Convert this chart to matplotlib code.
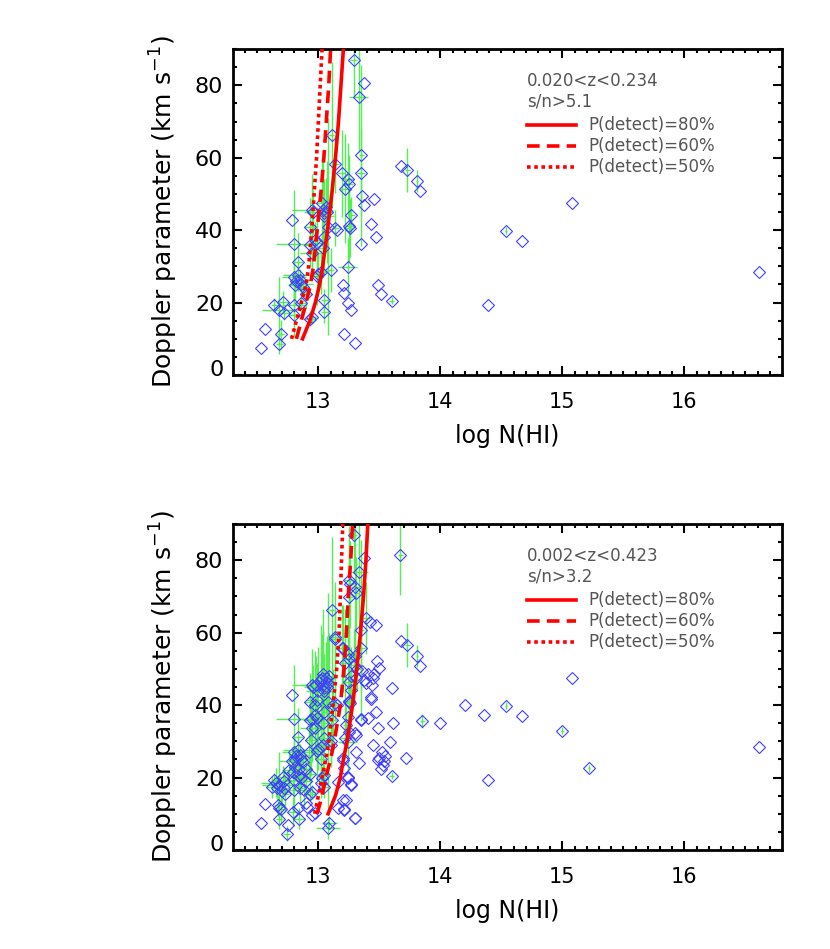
import numpy as np
import matplotlib
matplotlib.use('Agg')
import matplotlib.pyplot as plt
from matplotlib.transforms import ScaledTranslation

# top sample: 0.020<z<0.234, s/n>5.1  (log N, b, errors)
top_logN = [12.53, 12.56, 12.64, 12.68, 12.71, 12.69, 12.68, 12.72, 12.78, 12.80,
            12.83, 12.80, 12.83, 12.85, 12.81, 12.86, 12.82, 12.87, 12.80, 12.80,
            12.86, 12.90, 12.93, 12.95, 12.95, 12.96, 12.93, 12.93, 12.95, 12.97,
            12.99, 12.99, 13.00, 13.03, 13.04, 13.05, 13.06, 13.07, 13.05, 13.05,
            13.04, 13.05, 13.05, 13.02, 13.10, 13.08, 13.14, 13.15, 13.14, 13.11,
            13.19, 13.22, 13.24, 13.25, 13.27, 13.25, 13.26, 13.24, 13.20, 13.21,
            13.24, 13.27, 13.21, 13.30, 13.29, 13.37, 13.33, 13.35, 13.35, 13.36,
            13.37, 13.35, 13.43, 13.46, 13.47, 13.49, 13.51, 13.60, 13.68, 13.73,
            13.81, 13.83, 14.39, 14.54, 14.67, 15.08, 16.61]
top_b = [7.5, 12.7, 19.3, 18.0, 20.2, 11.3, 8.7, 17.2, 42.8, 36.1,
         31.3, 27.0, 27.6, 26.2, 24.8, 25.0, 25.9, 24.3, 19.3, 16.5,
         19.8, 22.5, 15.6, 16.0, 45.6, 45.0, 41.0, 35.9, 33.6, 37.3,
         36.5, 27.4, 28.0, 47.6, 45.5, 44.0, 46.3, 45.0, 44.8, 38.0,
         35.0, 20.7, 17.5, 28.5, 29.0, 41.0, 40.5, 40.0, 58.2, 66.3,
         55.7, 51.5, 54.0, 52.8, 44.2, 41.1, 40.5, 29.9, 24.8, 22.7,
         20.0, 17.9, 11.2, 8.8, 87.1, 80.5, 76.7, 60.7, 55.9, 49.5,
         47.0, 36.1, 41.6, 48.5, 38.2, 24.8, 22.5, 20.5, 57.7, 56.6,
         53.6, 50.8, 19.3, 39.9, 37.1, 47.4, 28.5]
top_dlogN = [0, 0, 0.03, 0.14, 0.05, 0.03, 0.03, 0.05, 0, 0.15,
             0.04, 0.10, 0.12, 0.08, 0.06, 0.10, 0.05, 0.05, 0.10, 0.04,
             0.04, 0.05, 0.05, 0.03, 0.17, 0.08, 0.05, 0.06, 0.10, 0.05,
             0.05, 0.05, 0.04, 0.06, 0.05, 0.08, 0.04, 0.05, 0.03, 0.03,
             0.05, 0.03, 0.03, 0.04, 0.03, 0.02, 0.03, 0, 0.03, 0.02,
             0.03, 0.04, 0.05, 0.03, 0.03, 0.05, 0.03, 0.08, 0, 0,
             0, 0, 0, 0, 0.03, 0, 0.08, 0.02, 0.03, 0,
             0, 0, 0, 0, 0, 0, 0, 0.02, 0, 0.02,
             0.01, 0, 0, 0.01, 0, 0, 0]
top_db = [0, 0, 2, 9, 3, 4, 3, 2, 0, 15,
          8, 5, 4, 3, 4, 3, 2, 2, 3, 6,
          3, 4, 2, 2, 10, 6, 8, 6, 5, 5,
          10, 8, 6, 12, 15, 10, 8, 14, 5, 10,
          8, 3, 3, 6, 6, 30, 5, 0, 8, 20,
          12, 15, 10, 8, 5, 10, 8, 8, 0, 0,
          0, 0, 0, 0, 10, 0, 15, 25, 12, 0,
          0, 0, 0, 0, 0, 0, 0, 1, 0, 6,
          3, 0, 0, 1, 0, 0, 0]

# extra lines that enter the looser bottom sample (0.002<z<0.423, s/n>3.2)
extra_logN = [12.74, 12.75, 12.67, 12.68, 12.62, 12.65, 12.66, 12.70, 12.72, 12.73,
              12.76, 12.78, 12.79, 12.81, 12.83, 12.84, 12.85, 12.79, 12.84, 12.83,
              12.90, 12.91, 12.95, 12.97, 12.88, 12.90, 12.93, 12.92, 12.94, 12.97,
              12.95, 12.97, 12.99, 12.98, 13.00, 13.02, 13.04, 13.06, 13.08, 13.09,
              13.02, 13.04, 13.05, 13.02, 13.03, 13.08, 13.09, 13.10, 13.11, 13.12,
              13.14, 13.16, 13.16, 13.20, 13.21, 13.23, 13.24, 13.27, 13.30, 13.20,
              13.22, 13.23, 13.25, 13.25, 13.20, 13.27, 13.29, 13.30, 13.32, 13.31,
              13.25, 13.25, 13.26, 13.30, 13.31, 13.24, 13.25, 13.30, 13.31, 13.31,
              13.35, 13.33, 13.39, 13.42, 13.47, 13.39, 13.41, 13.44, 13.45, 13.48,
              13.50, 13.43, 13.45, 13.49, 13.41, 13.50, 13.52, 13.53, 13.55, 13.54,
              13.60, 13.61, 13.59, 13.72, 13.67, 13.85, 14.00, 14.20, 14.36, 15.00,
              15.22]
extra_b = [4.5, 6.9, 12.4, 11.5, 17.5, 18.6, 17.0, 16.2, 19.0, 15.5,
           22.0, 24.5, 21.5, 23.0, 20.5, 22.5, 17.0, 10.6, 8.7, 11.5,
           12.9, 12.0, 9.7, 10.1, 16.5, 19.0, 21.0, 27.2, 30.5, 33.6,
           36.3, 40.0, 41.5, 45.5, 44.0, 47.0, 48.5, 47.5, 46.0, 48.0,
           25.0, 29.0, 31.0, 18.5, 20.0, 6.0, 7.4, 30.0, 36.0, 40.0,
           58.9, 18.9, 11.5, 13.8, 11.0, 13.8, 20.2, 18.3, 8.9, 25.3,
           31.0, 34.5, 41.0, 46.5, 55.7, 48.0, 51.0, 53.5, 50.0, 47.5,
           69.9, 74.5, 73.4, 72.5, 71.0, 36.6, 32.5, 32.2, 27.1, 31.7,
           35.9, 24.0, 64.0, 63.0, 62.0, 46.0, 48.5, 45.5, 47.5, 52.2,
           50.2, 42.3, 29.0, 33.6, 36.5, 25.5, 27.0, 23.5, 26.0, 24.5,
           44.6, 35.0, 29.9, 25.5, 81.4, 35.6, 35.2, 40.0, 37.3, 32.9,
           22.6]
extra_dlogN = [0.03, 0, 0.03, 0, 0.05, 0.12, 0.04, 0.06, 0.08, 0.03,
               0.06, 0.10, 0.08, 0.05, 0.06, 0.04, 0.04, 0.04, 0.05, 0,
               0, 0, 0, 0, 0.05, 0.06, 0.04, 0.08, 0.05, 0.06,
               0.10, 0.05, 0.08, 0.12, 0.10, 0.06, 0.05, 0.08, 0.06, 0.04,
               0.04, 0.05, 0.06, 0.04, 0.03, 0.10, 0.06, 0.03, 0.04, 0.03,
               0.03, 0, 0, 0, 0, 0, 0, 0, 0, 0,
               0.04, 0.03, 0.03, 0.04, 0.05, 0.03, 0.03, 0.04, 0.03, 0,
               0.03, 0.04, 0.03, 0.03, 0.02, 0, 0, 0, 0, 0,
               0, 0, 0.03, 0, 0, 0, 0, 0, 0, 0,
               0, 0, 0, 0, 0, 0, 0, 0, 0, 0,
               0, 0, 0, 0, 0.02, 0.02, 0, 0, 0, 0.01,
               0.01]
extra_db = [2, 0, 3, 0, 3, 4, 3, 3, 4, 5,
            5, 4, 6, 4, 3, 5, 4, 4, 3, 0,
            0, 0, 0, 0, 5, 4, 4, 8, 10, 8,
            12, 15, 10, 8, 12, 15, 18, 10, 8, 12,
            6, 8, 5, 4, 3, 3, 2, 6, 8, 10,
            15, 0, 0, 0, 0, 0, 0, 0, 0, 0,
            6, 5, 8, 10, 12, 8, 10, 8, 6, 0,
            15, 15, 12, 18, 10, 0, 0, 0, 0, 0,
            0, 0, 10, 0, 0, 0, 0, 0, 0, 0,
            0, 0, 0, 0, 0, 0, 0, 0, 0, 0,
            0, 0, 0, 0, 11, 2, 0, 0, 0, 1,
            1]

# detection probability curves: log N reached at each b
curve_b = [10, 15, 20, 25, 30, 40, 50, 60, 70, 80, 90]
top_p80 = [12.87, 12.93, 12.975, 13.01, 13.035, 13.075, 13.11, 13.14, 13.165, 13.185, 13.205]
top_p60 = [12.82, 12.86, 12.90, 12.935, 12.96, 12.99, 13.02, 13.045, 13.065, 13.085, 13.10]
top_p50 = [12.78, 12.82, 12.86, 12.90, 12.92, 12.945, 12.965, 12.985, 13.00, 13.015, 13.03]
bot_p80 = [13.08, 13.14, 13.18, 13.205, 13.235, 13.28, 13.315, 13.345, 13.37, 13.39, 13.405]
bot_p60 = [12.99, 13.03, 13.06, 13.10, 13.13, 13.18, 13.21, 13.23, 13.245, 13.265, 13.28]
bot_p50 = [12.97, 13.00, 13.03, 13.06, 13.085, 13.12, 13.15, 13.17, 13.18, 13.19, 13.20]

blue = '#4040ff'
green = '#55ee55'
grey = '#555555'
styles = ['-', (0, (3.5, 2)), (0, (1, 1))]
labels = ['P(detect)=80%', 'P(detect)=60%', 'P(detect)=50%']

plt.rcParams['font.family'] = 'DejaVu Sans'

fig = plt.figure(figsize=(8.3, 9.49), dpi=100)
ax_top = fig.add_axes([0.2807, 0.6048, 0.6614, 0.3435])
ax_bot = fig.add_axes([0.2807, 0.1043, 0.6614, 0.3435])


def draw_panel(ax, logN, b, dN, db, curves, ztext, sntext):
    ax.errorbar(logN, b, xerr=dN, yerr=db, fmt='none', ecolor=green,
                elinewidth=1.0, capsize=0, zorder=1)
    ax.plot(logN, b, 'D', mfc='none', mec=blue, ms=6.3, mew=0.8, zorder=2)
    for c, ls in zip(curves, styles):
        ax.plot(c, curve_b, color='red', lw=2.6, ls=ls, zorder=3)

    ax.set_xlim(12.3, 16.8)
    ax.set_ylim(0, 90)
    ax.set_xticks([13, 14, 15, 16])
    ax.set_xticks(np.arange(12.4, 16.8, 0.1), minor=True)
    ax.set_yticks([0, 20, 40, 60, 80])
    ax.set_yticks(np.arange(0, 91, 5), minor=True)
    ax.tick_params(which='both', direction='in', top=True, right=True, width=1.5)
    ax.tick_params(which='major', length=6.5)
    ax.tick_params(which='minor', length=3.2)
    ax.tick_params(axis='y', labelsize=16, pad=7)
    ax.tick_params(axis='x', labelsize=15, pad=12)
    for s in ax.spines.values():
        s.set_linewidth(2)

    ax.set_xlabel('log N(HI)', fontsize=17, labelpad=9)
    ax.set_ylabel('Doppler parameter (km s$^{-1}$)', fontsize=18, labelpad=11)

    # the zero label sits a little above its tick
    zero = ax.get_yticklabels()[0]
    zero.set_transform(zero.get_transform() + ScaledTranslation(0, 0.07, fig.dpi_scale_trans))

    ax.text(0.5355, 0.903, ztext, transform=ax.transAxes, color=grey,
            fontsize=12, va='center')
    ax.text(0.5355, 0.838, sntext, transform=ax.transAxes, color=grey,
            fontsize=12, va='center')
    for i, (ls, lab) in enumerate(zip(styles, labels)):
        yy = 0.767 - i * 0.0645
        ax.plot([0.5355, 0.625], [yy, yy], transform=ax.transAxes,
                color='red', lw=2.6, ls=ls)
        ax.text(0.647, yy, lab, transform=ax.transAxes, color=grey,
                fontsize=12, va='center')


draw_panel(ax_top, top_logN, top_b, top_dlogN, top_db,
           [top_p80, top_p60, top_p50], '0.020<z<0.234', 's/n>5.1')
draw_panel(ax_bot, top_logN + extra_logN, top_b + extra_b,
           top_dlogN + extra_dlogN, top_db + extra_db,
           [bot_p80, bot_p60, bot_p50], '0.002<z<0.423', 's/n>3.2')

fig.savefig('out.png', dpi=100)
